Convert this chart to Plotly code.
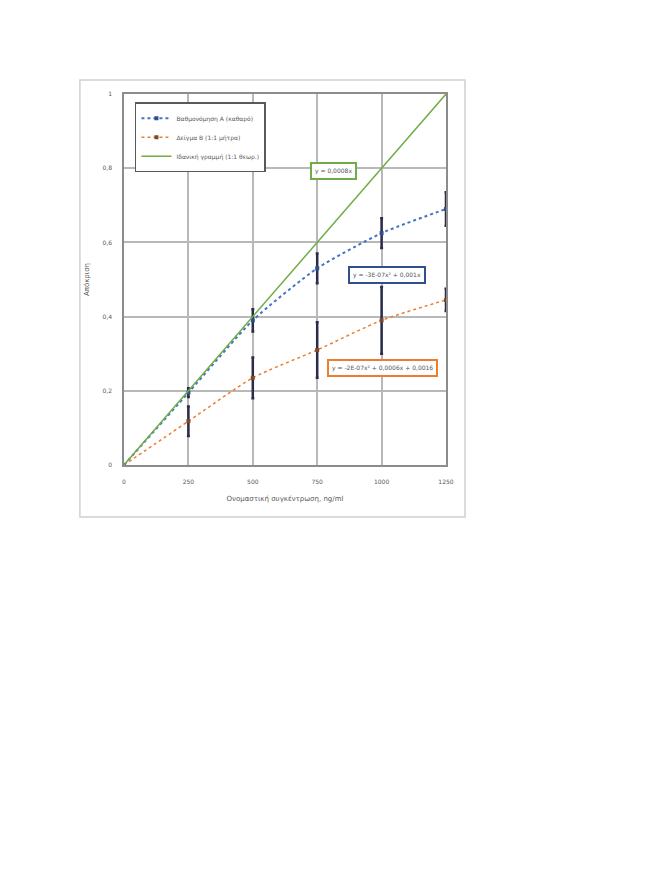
import plotly.graph_objects as go

# data
conc = [0, 250, 500, 750, 1000, 1250]
resp_a = [0, 0.195, 0.39, 0.53, 0.625, 0.69]
err_a = [0, 0.012, 0.03, 0.04, 0.04, 0.045]
resp_b = [0, 0.118, 0.235, 0.31, 0.39, 0.445]
err_b = [0, 0.04, 0.055, 0.075, 0.09, 0.03]
ideal = [0, 0.2, 0.4, 0.6, 0.8, 1.0]

names = ["Βαθμονόμηση Α (καθαρό)", "Δείγμα Β (1:1 μήτρα)", "Ιδανική γραμμή (1:1 θεωρ.)"]
eq_ideal = "y = 0,0008x"
eq_a = "y = -3E-07x² + 0,001x"
eq_b = "y = -2E-07x² + 0,0006x + 0,0016"

BLUE = "#4472C4"
ORANGE = "#ED7D31"
GREEN = "#70AD47"
ERR = "#2b2b4a"

fig = go.Figure()

fig.add_trace(go.Scatter(
    x=conc, y=resp_a, name=names[0], mode="lines+markers",
    line=dict(color=BLUE, width=2, dash="dot", shape="spline", smoothing=0.6),
    marker=dict(color="#2f4f8f", size=4, symbol="square"),
    error_y=dict(type="data", array=err_a, color=ERR, thickness=2.5, width=1.5),
))
fig.add_trace(go.Scatter(
    x=conc, y=resp_b, name=names[1], mode="lines+markers",
    line=dict(color=ORANGE, width=1.5, dash="dot", shape="spline", smoothing=0.6),
    marker=dict(color="#7a4a2a", size=4, symbol="square"),
    error_y=dict(type="data", array=err_b, color=ERR, thickness=2.5, width=1.5),
))
fig.add_trace(go.Scatter(
    x=conc, y=ideal, name=names[2], mode="lines",
    line=dict(color=GREEN, width=1.5),
))

def eq_box(x, y, text, color):
    return dict(x=x, y=y, xref="x", yref="y", text=text, showarrow=False,
                font=dict(size=6, color="#555555", family="DejaVu Sans"),
                bgcolor="white", bordercolor=color, borderwidth=2, borderpad=3)

# page adds an 8px body margin, so offsets are shifted by that
fig.update_layout(
    width=670, height=872,
    margin=dict(l=116, r=232, t=86, b=415),
    paper_bgcolor="white", plot_bgcolor="white",
    separators=",.",
    font=dict(family="DejaVu Sans", size=6, color="#595959"),
    xaxis=dict(
        range=[0, 1250], tickvals=conc, ticktext=[str(c) for c in conc],
        showgrid=True, gridcolor="#b8b8b8", gridwidth=1.5,
        showline=True, linecolor="#8c8c8c", linewidth=1.5, mirror=True,
        zeroline=False, ticks="outside", ticklen=10, tickcolor="rgba(0,0,0,0)",
        tickfont=dict(size=6),
        title=dict(text="Ονομαστική συγκέντρωση, ng/ml", font=dict(size=7), standoff=12),
    ),
    yaxis=dict(
        range=[0, 1], tickvals=[0, 0.2, 0.4, 0.6, 0.8, 1], tickformat=".1~f",
        showgrid=True, gridcolor="#b8b8b8", gridwidth=1.5,
        showline=True, linecolor="#8c8c8c", linewidth=1.5, mirror=True,
        zeroline=False, ticks="outside", ticklen=9, tickcolor="rgba(0,0,0,0)",
        tickfont=dict(size=6),
        title=dict(text="Απόκριση", font=dict(size=7), standoff=12),
    ),
    legend=dict(
        x=0.034, y=0.978, xanchor="left", yanchor="top",
        bgcolor="white", bordercolor="#595959", borderwidth=1.5,
        font=dict(size=6), itemwidth=30, tracegroupgap=0,
    ),
    annotations=[
        eq_box(815, 0.792, eq_ideal, GREEN),
        eq_box(1021, 0.512, eq_a, "#2f4f8f"),
        eq_box(1005, 0.261, eq_b, ORANGE),
    ],
    shapes=[dict(
        type="rect", xref="paper", yref="paper",
        x0=-0.137, x1=1.059, y0=-0.140, y1=1.038,
        line=dict(color="#d0d0d0", width=1.5), layer="below",
    )],
)

fig.write_html("out.html")
